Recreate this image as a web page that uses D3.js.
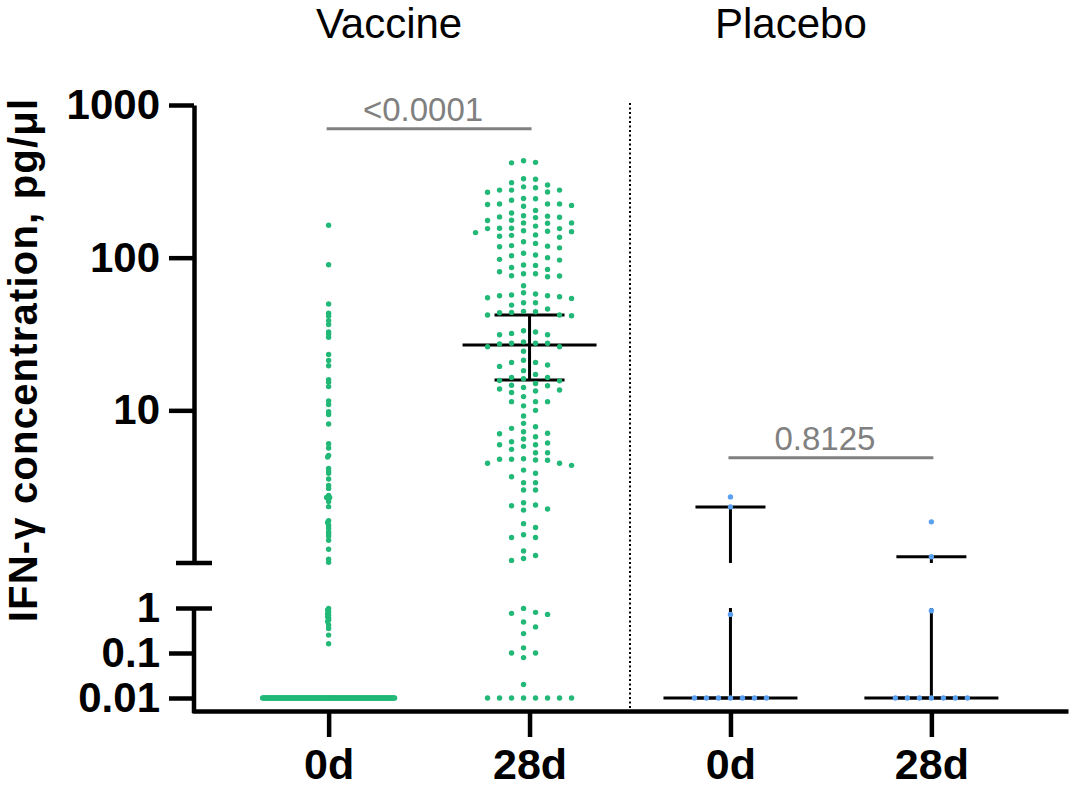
<!DOCTYPE html>
<html>
<head>
<meta charset="utf-8">
<script src="https://cdn.jsdelivr.net/npm/d3@7/dist/d3.min.js"></script>
<style>
  body{margin:0;background:#fff;}
  svg{display:block;font-family:"Liberation Sans",Arial,Helvetica,sans-serif;}
</style>
</head>
<body>
<svg id="chart" width="1072" height="788"></svg>
<script>
// ---- data ----
const groups = ['v0', 'v28', 'p0', 'p28'];
const groupLabels = ['0d', '28d', '0d', '28d'];
const panelTitles = ['Vaccine', 'Placebo'];

const vaccine0d = [
  163, 89.9, 49.7, 43.2, 41.5, 38.7, 36.5, 32.6, 31.6, 30.1, 23.2, 21.2, 19.6, 15.9, 15.3, 14.3,
  11.5, 10.9, 9.79, 9.39, 8.13, 6.04, 5.66, 5.06, 4.95, 4.17, 4.00, 3.87, 3.55, 3.22, 3.08, 2.77,
  2.69, 2.69, 2.69, 2.64, 2.53, 2.34, 1.89, 1.84, 1.77, 1.69, 1.60, 1.55, 1.50, 1.41, 1.23, 1.06, 1.01,
  0.98, 0.90, 0.83, 0.75, 0.70, 0.64, 0.60, 0.54, 0.50, 0.42, 0.35, 0.25, 0.16,
  0.01, 0.01, 0.01, 0.01, 0.01, 0.01, 0.01, 0.01, 0.01, 0.01, 0.01, 0.01, 0.01, 0.01, 0.01, 0.01,
  0.01, 0.01, 0.01, 0.01, 0.01, 0.01, 0.01, 0.01, 0.01, 0.01, 0.01, 0.01, 0.01, 0.01, 0.01, 0.01,
  0.01, 0.01, 0.01, 0.01, 0.01, 0.01, 0.01, 0.01, 0.01, 0.01, 0.01, 0.01, 0.01, 0.01, 0.01, 0.01,
  0.01, 0.01, 0.01, 0.01, 0.01, 0.01, 0.01, 0.01, 0.01, 0.01, 0.01, 0.01, 0.01, 0.01, 0.01, 0.01,
  0.01, 0.01, 0.01, 0.01, 0.01, 0.01, 0.01, 0.01, 0.01, 0.01, 0.01, 0.01, 0.01, 0.01, 0.01, 0.01,
  0.01, 0.01, 0.01, 0.01, 0.01, 0.01, 0.01, 0.01, 0.01, 0.01, 0.01, 0.01, 0.01, 0.01, 0.01, 0.01,
  0.01, 0.01, 0.01, 0.01, 0.01, 0.01, 0.01, 0.01, 0.01, 0.01, 0.01, 0.01, 0.01, 0.01, 0.01, 0.01,
  0.01, 0.01, 0.01, 0.01, 0.01, 0.01, 0.01, 0.01, 0.01, 0.01, 0.01, 0.01, 0.01, 0.01, 0.01, 0.01,
  0.01, 0.01, 0.01, 0.01, 0.01
];
const vaccine28d = [
  431, 421, 418, 326, 329, 299, 291, 310, 277, 269, 268, 277, 287, 277, 244, 243, 238, 217, 223, 220,
  225, 225, 225, 196, 204, 188, 183, 187, 175, 184, 176, 185, 169, 169, 161, 168, 150, 156, 156, 149,
  155, 155, 146, 148, 141, 136, 138, 140, 127, 124, 120, 116, 118, 119, 104, 103, 107, 100, 97.5, 96.4,
  89.5, 89, 86.3, 83.8, 78.5, 78.5, 75.8, 75, 80.9, 76.2, 65.5, 57.8, 56.3, 54.6, 58.9, 54.1, 56.9, 55.5,
  56.3, 50.7, 48.9, 50.7, 44.5, 44.2, 46.1, 41.6, 43.6, 42.1, 42.1, 43.8,
  31.3, 31.3, 32.6, 31.9, 33.2, 28.1, 27.5, 27.5, 26.1, 27.2, 27.5, 26.1, 24.4, 21.3, 20.6, 20.6, 19.8,
  19.4, 18.2, 17.2, 16.4, 16.4, 15.0, 15.7, 15.6, 16.1, 14.1, 14.6, 13.1, 14.5, 13.4, 13.6, 13.8, 12.3,
  11.4, 11.4, 11.4, 10.0, 10.7, 9.18, 8.22, 7.62, 7.81, 7.24, 7.07, 7.03, 6.49, 6.23, 6.72, 5.95, 5.81,
  6.11, 5.95, 5.28, 5.28, 5.55, 4.50, 4.78, 4.78, 4.36, 4.82, 4.71, 4.50, 4.73, 4.06, 3.67, 3.87, 3.36,
  3.36, 3.01, 3.01,
  2.48, 2.22, 2.40, 2.26, 2.37, 1.81, 1.71, 1.47, 1.47, 1.53, 1.07, 1.12, 1.20, 1.04,
  0.76, 0.98, 0.72, 0.49, 0.80, 0.38, 0.27, 0.10, 0.13, 0.079, 0.10, 0.020,
  0.01, 0.01, 0.01, 0.01, 0.01, 0.01, 0.01, 0.01
];
const placebo0d = [0.01, 0.01, 0.01, 0.01, 0.01, 0.01, 0.01, 0.72, 2.33, 2.71];
const placebo28d = [0.01, 0.01, 0.01, 0.01, 0.01, 0.01, 0.01, 0.87, 1.10, 1.86];

// median with error bars
const centre = [0.01, 26.8, 0.01, 0.01];
const lowerErr = [0.01, 15.8, 0.01, 0.01];
const upperErr = [0.01, 42.1, 2.33, 1.10];

// p-value brackets
const pPairs = [['v0', 'v28'], ['p0', 'p28']];
const pLabels = ['<0.0001', '0.8125'];
const pLevels = [700, 4.9];

// ---- drawing ----
const series = [vaccine0d, vaccine28d, placebo0d, placebo28d];
const colors = ['#22b877', '#22b877', '#5aa0f0', '#5aa0f0'];
const swarmOpts = [
  {step: 1, dxMin: 1, dyMin: 2, half: false},
  {step: 12, dxMin: 12, dyMin: 7, half: true},
  {step: 12, dxMin: 12, dyMin: 7, half: false},
  {step: 12, dxMin: 12, dyMin: 7, half: false}
];

const svg = d3.select('#chart');
const axisX = 194, baseY = 711;

const yTop = d3.scaleLog().domain([1, 1000]).range([563, 105]);
const yBot = d3.scaleLog().domain([0.01, 1]).range([698, 608]);
const y = v => v >= 1 ? yTop(v) : yBot(v);
const x = d3.scalePoint().domain(groups).range([192, 1068]).padding(0.68);

// y axis, upper segment
const gTop = svg.append('g').attr('transform', `translate(${axisX},0)`)
  .call(d3.axisLeft(yTop).tickValues([10, 100, 1000]).tickFormat(d3.format('d'))
    .tickSize(25).tickPadding(9).tickSizeOuter(0));
// y axis, lower segment
const gBot = svg.append('g').attr('transform', `translate(${axisX},0)`)
  .call(d3.axisLeft(yBot).tickValues([0.01, 0.1, 1]).tickFormat(d => String(d))
    .tickSize(25).tickPadding(9).tickSizeOuter(0));
gBot.select('.domain').attr('d', `M0,${baseY + 2}V${yBot(1)}`);
gBot.selectAll('.tick').filter(d => d === 1).select('line').attr('x1', 18).attr('x2', -18);
// break mark at the bottom of the upper segment
gTop.append('line').attr('x1', -18).attr('x2', 18).attr('y1', yTop(1)).attr('y2', yTop(1))
  .attr('stroke', '#000');

// x axis
const gX = svg.append('g').attr('transform', `translate(0,${baseY})`)
  .call(d3.axisBottom(x).tickSize(26).tickPadding(11).tickSizeOuter(0)
    .tickFormat((d, i) => groupLabels[i]));

[gTop, gBot, gX].forEach(g => {
  g.selectAll('.domain, line').attr('stroke', '#000').attr('stroke-width', 4.5);
  g.selectAll('text').attr('fill', '#000').attr('font-weight', 'bold')
    .attr('font-family', '"Liberation Sans",Arial,sans-serif');
});
gTop.selectAll('text').attr('font-size', 42);
gBot.selectAll('text').attr('font-size', 42);
gX.selectAll('text').attr('font-size', 43);

// y title
svg.append('text')
  .attr('transform', `translate(37,360) rotate(-90)`)
  .attr('text-anchor', 'middle').attr('font-size', 40).attr('font-weight', 'bold')
  .attr('letter-spacing', 1.2)
  .text('IFN-γ concentration, pg/μl');

// panel titles
const panelMid = [(x('v0') + x('v28')) / 2, (x('p0') + x('p28')) / 2];
panelTitles.forEach((t, i) => {
  svg.append('text').attr('x', panelMid[i] - 40).attr('y', 38)
    .attr('text-anchor', 'middle').attr('font-size', 42).text(t);
});

// dotted separator
const sepX = (x('v28') + x('p0')) / 2;
svg.append('line').attr('x1', sepX).attr('x2', sepX).attr('y1', 103).attr('y2', baseY - 2)
  .attr('stroke', '#000').attr('stroke-width', 2).attr('stroke-dasharray', '2,2.5');

// p-value brackets
pPairs.forEach((pair, i) => {
  const x1 = x(pair[0]) - 2, x2 = x(pair[1]) + 2, yy = yTop(pLevels[i]);
  svg.append('line').attr('x1', x1).attr('x2', x2).attr('y1', yy).attr('y2', yy)
    .attr('stroke', '#808080').attr('stroke-width', 3);
  svg.append('text').attr('x', (x1 + x2) / 2 - 6).attr('y', yy - 8)
    .attr('text-anchor', 'middle').attr('font-size', 33).attr('fill', '#808080')
    .text(pLabels[i]);
});

// median and error bars
const gErr = svg.append('g').attr('stroke', '#000').attr('stroke-width', 3);
groups.forEach((g, i) => {
  const cx = x(g);
  const hi = upperErr[i], lo = lowerErr[i];
  const segs = [];
  if (hi >= 1 && lo < 1) {
    segs.push([y(hi), yTop(1)], [yBot(1), y(lo)]);
  } else {
    segs.push([y(hi), y(lo)]);
  }
  segs.forEach(s => gErr.append('line').attr('x1', cx).attr('x2', cx).attr('y1', s[0]).attr('y2', s[1]));
  [hi, lo].forEach(v => gErr.append('line').attr('x1', cx - 35).attr('x2', cx + 35)
    .attr('y1', y(v)).attr('y2', y(v)));
  gErr.append('line').attr('x1', cx - 67).attr('x2', cx + 67)
    .attr('y1', y(centre[i])).attr('y2', y(centre[i]));
});

// scatter, spread sideways in columns so dots do not sit on top of each other
function swarm(values, o) {
  const pts = values.map(v => ({v, y: y(v)})).sort((a, b) => a.y - b.y);
  const placed = [];
  pts.forEach(p => {
    for (let k = 0; k < 1000; k++) {
      const off = o.half
        ? (k % 2 ? 1 : -1) * (Math.floor(k / 2) + 0.5) * o.step
        : (k % 2 ? -1 : 1) * Math.ceil(k / 2) * o.step;
      const hit = placed.some(q => Math.abs(q.y - p.y) < o.dyMin && Math.abs(q.dx - off) < o.dxMin - 1e-9);
      if (!hit) { p.dx = off; break; }
    }
    placed.push(p);
  });
  return placed;
}

groups.forEach((g, i) => {
  const pts = swarm(series[i], swarmOpts[i]);
  svg.append('g').selectAll('circle').data(pts).join('circle')
    .attr('cx', d => x(g) + d.dx)
    .attr('cy', d => d.y)
    .attr('r', 2.7)
    .attr('fill', colors[i]);
});
</script>
</body>
</html>
